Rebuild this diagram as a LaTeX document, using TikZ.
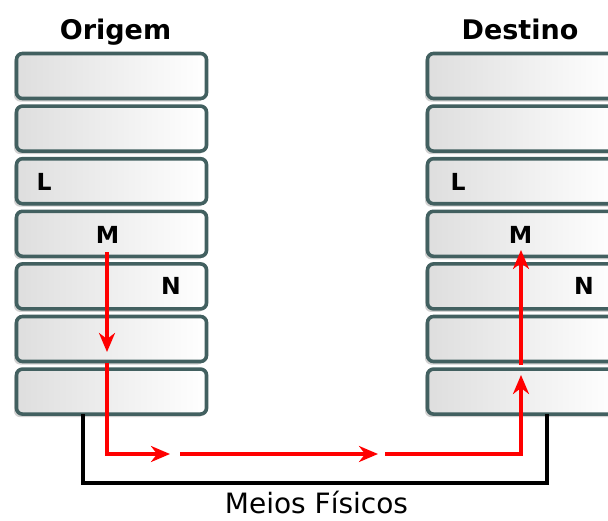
\documentclass[tikz,border=0pt]{standalone}
\usepackage{fontspec}
\setmainfont{DejaVu Sans}
\usetikzlibrary{arrows.meta,shadows}
\definecolor{rim}{RGB}{66,96,96}
\definecolor{shade}{RGB}{222,222,222}
\tikzset{
  layer/.style={draw=rim, line width=3.6pt, rounded corners=6pt, minimum width=190pt,
    minimum height=45pt, inner sep=0pt, outer sep=0pt, left color=shade, right color=white,
    drop shadow={shadow xshift=-2.5pt, shadow yshift=-3pt, opacity=0.35, fill=black!50}},
  title/.style={font=\fontsize{27}{30}\selectfont\bfseries, anchor=base, inner sep=0pt},
  lbl/.style={font=\fontsize{23.5}{26}\selectfont\bfseries, anchor=base, inner sep=0pt},
  flow/.style={draw=red, line width=3.5pt, -{Stealth[length=19pt,width=16pt,inset=6pt]}},
  medium/.style={draw=black, line width=3.5pt}
}
\begin{document}
\begin{tikzpicture}[x=1pt,y=-1pt]
\clip (0,0) rectangle (608,520);
\fill[white] (0,0) rectangle (608,520);
% stacks
\foreach \k in {1,...,7}{
  \node[layer] (o\k) at (111.5,{76+52.6*(\k-1)}) {};
  \node[layer] (d\k) at (522.5,{76+52.6*(\k-1)}) {};
}
% titles
\node[title] (to) at (115.5,39) {Origem};
\node[title] (td) at (520,39) {Destino};
% layer labels
\node[lbl] (ol) at (44,190) {L};
\node[lbl] (om) at (107.5,243) {M};
\node[lbl] (on) at (171,294) {N};
\node[lbl] (dl) at (458,190) {L};
\node[lbl] (dm) at (520.5,243) {M};
\node[lbl] (dn) at (584,294) {N};
% physical medium
\coordinate (ma) at (83,483);
\coordinate (mb) at (547,483);
\draw[medium] (o7.south -| ma) -- (ma) -- (mb) -- (o7.south -| mb);
\node[font=\fontsize{28}{32}\selectfont, anchor=base, inner sep=0pt] (mf) at (316.5,513) {Meios Físicos};
% red flow
\coordinate (a1) at (107,252);
\coordinate (a2) at (107,352);
\coordinate (a3) at (107,363);
\coordinate (a4) at (107,454);
\coordinate (a5) at (170,454);
\coordinate (a6) at (180,454);
\coordinate (a7) at (378,454);
\coordinate (a8) at (385,454);
\coordinate (a9) at (521,454);
\coordinate (a10) at (521,375);
\coordinate (a11) at (521,365);
\coordinate (a12) at (521,250);
\draw[flow] (a1) -- (a2);
\draw[flow] (a3) -- (a4) -- (a5);
\draw[flow] (a6) -- (a7);
\draw[flow] (a8) -- (a9) -- (a10);
\draw[flow] (a11) -- (a12);
\end{tikzpicture}
\end{document}
